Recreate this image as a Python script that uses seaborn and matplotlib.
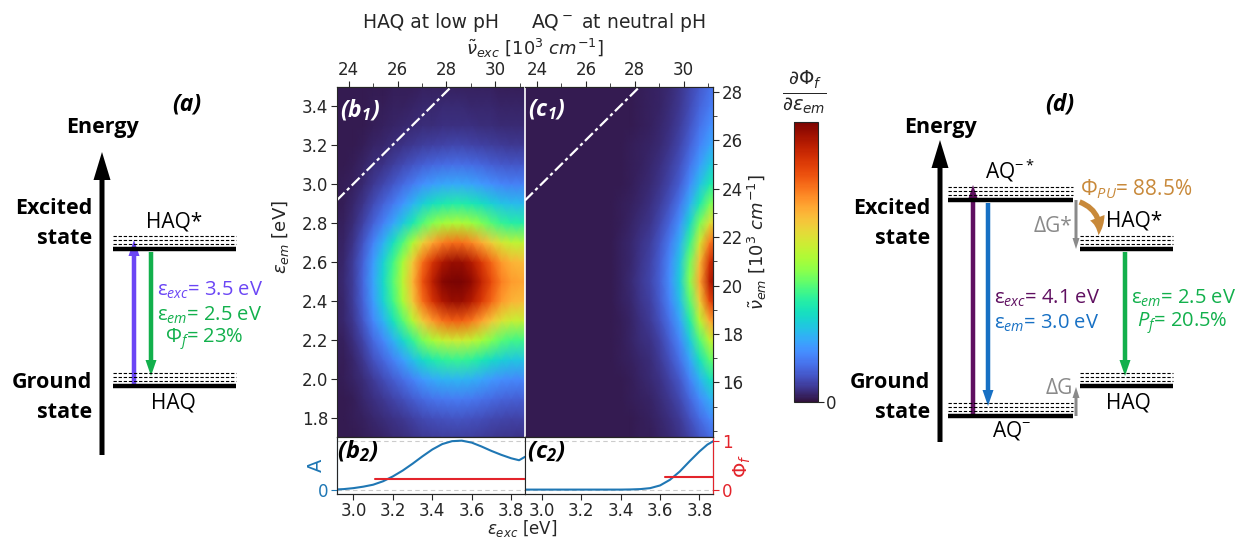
import numpy as np
import matplotlib
matplotlib.use("Agg")
import matplotlib.pyplot as plt
import seaborn as sns
from matplotlib.patches import FancyArrowPatch
from matplotlib.ticker import MultipleLocator, FixedLocator

# ---------------- data ----------------
exc_grid = [2.90, 2.95, 3.00, 3.05, 3.10, 3.15, 3.20, 3.25, 3.30, 3.35, 3.40,
            3.45, 3.50, 3.55, 3.60, 3.65, 3.70, 3.75, 3.80, 3.85, 3.90]
exc_profile_b = [0.01, 0.02, 0.05, 0.11, 0.20, 0.29, 0.40, 0.52, 0.66, 0.80, 0.90,
                 0.97, 1.00, 1.00, 0.96, 0.89, 0.81, 0.74, 0.70, 0.69, 0.70]
exc_profile_c = [0.00, 0.00, 0.00, 0.00, 0.00, 0.00, 0.00, 0.00, 0.00, 0.00, 0.01,
                 0.02, 0.04, 0.06, 0.10, 0.17, 0.27, 0.45, 0.68, 0.90, 1.00]
em_grid = [1.70, 1.80, 1.90, 2.00, 2.10, 2.20, 2.30, 2.40, 2.50, 2.60,
           2.70, 2.80, 2.90, 3.00, 3.10, 3.20, 3.30, 3.40, 3.50]
em_profile_b = [0.05, 0.08, 0.14, 0.23, 0.37, 0.55, 0.78, 0.95, 1.00, 0.95,
                0.76, 0.50, 0.34, 0.21, 0.12, 0.06, 0.03, 0.02, 0.01]
em_profile_c = [0.12, 0.17, 0.24, 0.33, 0.45, 0.58, 0.75, 0.90, 1.00, 0.95,
                0.82, 0.64, 0.48, 0.36, 0.28, 0.22, 0.18, 0.15, 0.13]
heat_floor = 0.012

abs_eps = [2.90, 2.95, 3.00, 3.05, 3.10, 3.15, 3.20, 3.25, 3.30, 3.35, 3.40,
           3.45, 3.50, 3.55, 3.60, 3.65, 3.70, 3.75, 3.80, 3.84, 3.87]
abs_b = [0.00, 0.01, 0.03, 0.06, 0.10, 0.17, 0.27, 0.39, 0.53, 0.68, 0.82,
         0.93, 0.99, 1.00, 0.96, 0.88, 0.79, 0.71, 0.64, 0.60, 0.67]
abs_c = [0.00, 0.00, 0.00, 0.00, 0.00, 0.00, 0.00, 0.00, 0.00, 0.00, 0.00,
         0.003, 0.01, 0.03, 0.085, 0.20, 0.37, 0.58, 0.78, 0.92, 0.99]
phi_b_eps = [3.11, 3.87]
phi_b = [0.22, 0.22]
phi_c_eps = [3.625, 3.87]
phi_c = [0.255, 0.255]

em_ticks = [1.8, 2.0, 2.2, 2.4, 2.6, 2.8, 3.0, 3.2, 3.4]
exc_ticks = [3.0, 3.2, 3.4, 3.6, 3.8]
nu_exc_ticks = [24, 26, 28, 30]
nu_em_ticks = [16, 18, 20, 22, 24, 26, 28]

EV2NU = 8.0655  # 10^3 cm^-1 per eV

# ---------------- style ----------------
sns.set_style("ticks")
plt.rcParams['font.family'] = ['DejaVu Sans']
plt.rcParams['mathtext.fontset'] = 'dejavusans'
plt.rcParams['mathtext.rm'] = 'Open Sans'
plt.rcParams['mathtext.it'] = 'Open Sans:italic'
plt.rcParams['mathtext.bf'] = 'Open Sans:bold'
plt.rcParams['mathtext.bfit'] = 'Open Sans:italic:bold'
plt.rcParams['mathtext.sf'] = 'Open Sans'
plt.rcParams['xtick.direction'] = 'out'
plt.rcParams['ytick.direction'] = 'out'

W, H = 1242, 540
fig = plt.figure(figsize=(W / 100, H / 100), dpi=100)


def rect(x0, y0, x1, y1):
    return [x0 / W, 1 - y1 / H, (x1 - x0) / W, (y1 - y0) / H]


XL = (2.915, 3.87)
YL = (1.705, 3.495)
TICK_FS = 12
LAB_FS = 13

ax_b1 = fig.add_axes(rect(336.7, 87, 525, 437))
ax_c1 = fig.add_axes(rect(525, 87, 713.3, 437))
ax_b2 = fig.add_axes(rect(336.7, 437, 525, 494))
ax_c2 = fig.add_axes(rect(525, 437, 713.3, 494))
cax = fig.add_axes(rect(794, 122, 818, 402))

cmap = plt.get_cmap('turbo')
heat_b = np.outer(em_profile_b, exc_profile_b) + heat_floor
heat_c = np.outer(em_profile_c, exc_profile_c) + heat_floor

mesh = None
for ax, heat in ((ax_b1, heat_b), (ax_c1, heat_c)):
    mesh = ax.pcolormesh(exc_grid, em_grid, heat, cmap=cmap, vmin=0, vmax=1.0,
                         shading='gouraud')
    ax.axline((2.0, 2.0), slope=1, color='white', lw=1.6,
              ls=(0, (5, 1.5, 1.5, 1.5)))
    ax.set_xlim(*XL)
    ax.set_ylim(*YL)
    ax.tick_params(axis='x', bottom=False, labelbottom=False)
    sec = ax.secondary_xaxis('top', functions=(lambda e: e * EV2NU, lambda n: n / EV2NU))
    sec.xaxis.set_major_locator(FixedLocator(nu_exc_ticks))
    sec.xaxis.set_minor_locator(MultipleLocator(1))
    sec.tick_params(axis='x', labelsize=TICK_FS, length=4, pad=2)
    sec.tick_params(axis='x', which='minor', length=3)

ax_b1.set_yticks(em_ticks)
ax_b1.set_yticklabels([f"{t:.1f}" for t in em_ticks])
ax_b1.tick_params(axis='y', labelsize=TICK_FS, length=4, pad=2)
ax_b1.set_ylabel(r"$\varepsilon_{em}$ [eV]", fontsize=LAB_FS)
ax_b1.yaxis.set_label_coords(-0.245, 0.57)
ax_b1.spines['right'].set_color('white')
ax_c1.tick_params(axis='y', left=False, labelleft=False)
ax_c1.spines['left'].set_color('white')
ax_c1.spines['left'].set_linewidth(1.2)

sec_y = ax_c1.secondary_yaxis('right', functions=(lambda e: e * EV2NU, lambda n: n / EV2NU))
sec_y.yaxis.set_major_locator(FixedLocator(nu_em_ticks))
sec_y.yaxis.set_minor_locator(MultipleLocator(1))
sec_y.tick_params(axis='y', labelsize=TICK_FS, length=4, pad=2)
sec_y.tick_params(axis='y', which='minor', length=3)

# panel tags on heatmaps
for ax, tag in ((ax_b1, r"$\mathbfit{(b_1)}$"), (ax_c1, r"$\mathbfit{(c_1)}$")):
    ax.text(0.015, 0.97, tag, transform=ax.transAxes, ha='left', va='top',
            color='white', fontsize=16.5, math_fontfamily='custom')

# colorbar
cb = fig.colorbar(mesh, cax=cax, ticks=[0])
cb.ax.tick_params(labelsize=TICK_FS, length=4, pad=2)
cb.outline.set_linewidth(0.8)

# ---------------- bottom panels ----------------
BLUE = '#1f77b4'
RED = '#e3242b'
for ax, absx, phx, phy in ((ax_b2, abs_b, phi_b_eps, phi_b), (ax_c2, abs_c, phi_c_eps, phi_c)):
    ax.axhline(0, color='#cccccc', lw=0.8, ls=(0, (4, 3)), zorder=0)
    ax.axhline(1, color='#cccccc', lw=0.8, ls=(0, (4, 3)), zorder=0)
    sns.lineplot(x=abs_eps, y=absx, ax=ax, color=BLUE, lw=1.5)
    tw = ax.twinx()
    sns.lineplot(x=phx, y=phy, ax=tw, color=RED, lw=1.5)
    for a in (ax, tw):
        a.set_ylim(-0.09, 1.075)
        a.set_xlim(*XL)
    ax.set_xticks(exc_ticks)
    ax.set_xticklabels([f"{t:.1f}" for t in exc_ticks])
    ax.tick_params(axis='x', labelsize=TICK_FS, length=4, pad=1.5)
    ax.set_xlabel('')
    tw.set_ylabel('')
    if ax is ax_b2:
        tw.tick_params(axis='y', right=False, labelright=False)
        tw.spines['right'].set_visible(False)
        ax.set_yticks([0])
        ax.tick_params(axis='y', colors=BLUE, labelsize=TICK_FS, length=4, pad=2)
        ax.spines['left'].set_color(BLUE)
        ax.set_ylabel('A', color=BLUE, fontsize=LAB_FS + 1)
        ax.yaxis.set_label_coords(-0.055, 0.5)
    else:
        ax.tick_params(axis='y', left=False, labelleft=False)
        tw.set_yticks([0, 1])
        tw.tick_params(axis='y', colors=RED, labelsize=TICK_FS, length=4, pad=2)
        tw.spines['right'].set_color(RED)
        tw.spines['left'].set_visible(False)
        tw.set_ylabel(r"$\Phi_f$", color=RED, fontsize=LAB_FS + 1)
        tw.yaxis.set_label_coords(1.1, 0.5)

ax_b2.text(0.0, 0.75, r"$\mathbfit{(b_2)}$", transform=ax_b2.transAxes, ha='left', va='center',
           color='black', fontsize=17, math_fontfamily='custom')
ax_c2.text(0.01, 0.75, r"$\mathbfit{(c_2)}$", transform=ax_c2.transAxes, ha='left', va='center',
           color='black', fontsize=17, math_fontfamily='custom')

# ---------------- overlay for labels and diagrams ----------------
ov = fig.add_axes([0, 0, 1, 1])
ov.set_xlim(0, W)
ov.set_ylim(H, 0)
ov.axis('off')
ov.patch.set_visible(False)

ov.text(431, 22, "HAQ at low pH", ha='center', va='center', fontsize=13.5)
ov.text(618, 22, r"AQ$^-$ at neutral pH", ha='center', va='center', fontsize=13.5)
ov.text(535, 48, r"$\tilde{\nu}_{exc}$ [10$^3$ $cm^{-1}$]", ha='center', va='center', fontsize=LAB_FS)
ov.text(522, 539, r"$\varepsilon_{exc}$ [eV]", ha='center', va='bottom', fontsize=12)
ov.text(757, 242, r"$\tilde{\nu}_{em}$ [10$^3$ $cm^{-1}$]", ha='center', va='center',
        fontsize=LAB_FS, rotation=90)
ov.text(804, 92, r"$\frac{\partial\Phi_f}{\partial\varepsilon_{em}}$", ha='center', va='center',
        fontsize=20)

OS = 'Open Sans'


def t(x, y, s, ha='center', color='k', fs=15, weight='normal', style='normal'):
    ov.text(x, y, s, ha=ha, va='center', color=color, fontsize=fs, family=OS,
            fontweight=weight, fontstyle=style, math_fontfamily='custom')


def level(x0, x1, y):
    ov.plot([x0, x1], [y, y], color='k', lw=3.2, solid_capstyle='butt')
    for dy in (13, 9, 5):
        ov.plot([x0, x1], [y - dy, y - dy], color='k', lw=0.8, ls=(0, (3, 1.6)))


def arrow(x, y0, y1, color, w=4.5, hw=11, hl=16):
    ov.arrow(x, y0, 0, y1 - y0, width=w, head_width=hw, head_length=hl,
             length_includes_head=True, color=color, lw=0)


PURPLE_A = '#6b46f5'
GREEN = '#12b04c'
PURPLE_D = '#5f0f60'
BLUE_D = '#1770c4'
GRAY = '#8a8a8a'
ORANGE = '#c8893a'

# panel (a)
t(187, 104, "(a)", fs=16.5, weight='bold', style='italic')
t(102, 128, "Energy", fs=15.5, weight='bold')
arrow(102, 455, 152, 'k', w=5, hw=17, hl=28)
t(92, 208, "Excited", ha='right', fs=15.5, weight='bold')
t(92, 239, "state", ha='right', fs=15.5, weight='bold')
t(92, 383, "Ground", ha='right', fs=15.5, weight='bold')
t(92, 412, "state", ha='right', fs=15.5, weight='bold')
level(113, 236, 249)
level(113, 236, 386)
t(174, 222, "HAQ*")
t(173, 403, "HAQ")
arrow(134, 386, 240, PURPLE_A)
arrow(151, 252, 376, GREEN)
t(157, 290, r"ε$_{exc}$= 3.5 eV", ha='left', color=PURPLE_A, fs=14.5)
t(157, 315, r"ε$_{em}$= 2.5 eV", ha='left', color=GREEN, fs=14.5)
t(165, 339, r"Φ$_{f}$= 23%", ha='left', color=GREEN, fs=14.5)

# panel (d)
t(1060, 104, "(d)", fs=16.5, weight='bold', style='italic')
t(940, 128, "Energy", fs=15.5, weight='bold')
arrow(940, 442, 140, 'k', w=5, hw=17, hl=28)
t(930, 208, "Excited", ha='right', fs=15.5, weight='bold')
t(930, 239, "state", ha='right', fs=15.5, weight='bold')
t(930, 383, "Ground", ha='right', fs=15.5, weight='bold')
t(930, 412, "state", ha='right', fs=15.5, weight='bold')
level(948, 1073, 200)
level(948, 1073, 416)
level(1080, 1173, 249)
level(1080, 1173, 386)
t(1010, 171, r"AQ$^{-*}$")
t(1012, 431, r"AQ$^{-}$")
t(1134, 221, "HAQ*")
t(1128, 403, "HAQ")
arrow(973, 416, 185, PURPLE_D)
arrow(988, 203, 406, BLUE_D)
arrow(1076, 200, 249, GRAY, w=3, hw=7, hl=11)
arrow(1076, 416, 387, GRAY, w=3, hw=7, hl=11)
t(1072, 227, "ΔG*", ha='right', color=GRAY)
t(1073, 388, "ΔG", ha='right', color=GRAY)
arrow(1125, 252, 376, GREEN)
curved = FancyArrowPatch((1077, 201), (1098, 238), connectionstyle='arc3,rad=-0.45',
                         arrowstyle='simple,head_length=0.9,head_width=0.8,tail_width=0.28',
                         mutation_scale=14, color=ORANGE, lw=0)
ov.add_patch(curved)
t(1080, 189, r"Φ$_{PU}$= 88.5%", ha='left', color=ORANGE)
t(994, 298, r"ε$_{exc}$= 4.1 eV", ha='left', color=PURPLE_D, fs=14.5)
t(994, 323, r"ε$_{em}$= 3.0 eV", ha='left', color=BLUE_D, fs=14.5)
t(1131, 298, r"ε$_{em}$= 2.5 eV", ha='left', color=GREEN, fs=14.5)
t(1137, 323, r"$P_{f}$= 20.5%", ha='left', color=GREEN, fs=14.5)

fig.savefig("out.png", dpi=100)
